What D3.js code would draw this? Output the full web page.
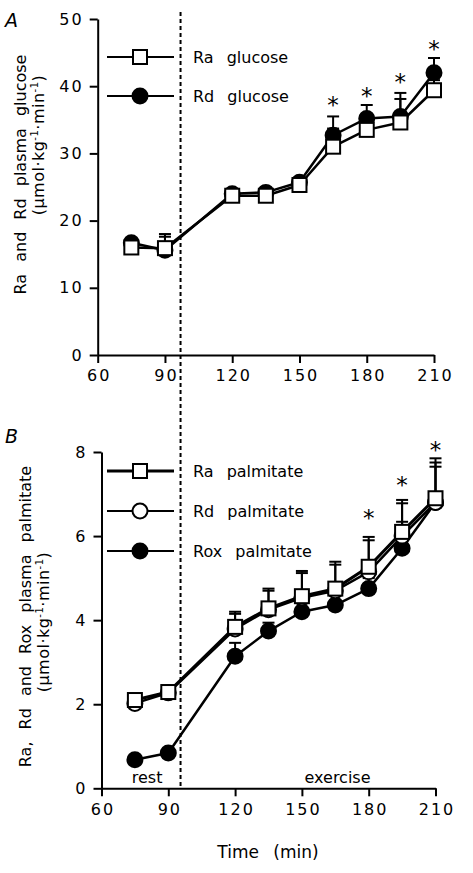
<!DOCTYPE html>
<html><head><meta charset="utf-8">
<script src="https://cdn.jsdelivr.net/npm/d3@7"></script>
<style>
body{margin:0;background:#fff}
svg{display:block}
text{font-family:"DejaVu Sans",sans-serif;fill:#000}
</style>
</head><body>
<svg id="c" width="473" height="873"></svg>
<script>
// ---------- data ----------
const timePoints = [75, 90, 120, 135, 150, 165, 180, 195, 210];
const xTicks = [60, 90, 120, 150, 180, 210];
const yTicksGlucose = [0, 10, 20, 30, 40, 50];
const yTicksPalm = [0, 2, 4, 6, 8];
const boundaryTime = 95.5;

const raGlucose   = [16.0, 15.9, 23.7, 23.7, 25.3, 31.0, 33.5, 34.6, 39.4];
const raGlucoseSE = [0.6, 2.1, 0.6, 0.6, 0.6, 2.7, 1.5, 3.5, 1.5];
const rdGlucose   = [16.7, 15.6, 24.0, 24.2, 25.7, 32.7, 35.2, 35.5, 42.0];
const rdGlucoseSE = [0.6, 2.0, 0.6, 0.6, 0.6, 2.8, 2.0, 3.5, 2.2];
const sigTimesGlucose = [165, 180, 195, 210];
const sigLevelGlucose = [37.9, 39.3, 41.4, 46.3];

const raPalm   = [2.10, 2.29, 3.84, 4.28, 4.57, 4.75, 5.27, 6.10, 6.90];
const raPalmSE = [0.08, 0.08, 0.36, 0.47, 0.60, 0.64, 0.71, 0.76, 0.95];
const rdPalm   = [2.02, 2.27, 3.79, 4.25, 4.53, 4.70, 5.15, 6.00, 6.80];
const rdPalmSE = [0.08, 0.08, 0.36, 0.45, 0.59, 0.62, 0.75, 0.78, 0.95];
const roxPalm   = [0.68, 0.84, 3.14, 3.74, 4.20, 4.36, 4.75, 5.71, 6.80];
const roxPalmSE = [0.05, 0.05, 0.32, 0.20, 0.25, 0.25, 0.25, 0.63, 0.85];
const sigTimesPalm = [180, 195, 210];
const sigLevelPalm = [6.54, 7.33, 8.17];

const legendGlucose = ["Ra glucose", "Rd glucose"];
const legendPalm = ["Ra palmitate", "Rd palmitate", "Rox palmitate"];
const phaseLabels = ["rest", "exercise"];
const phaseTimes = [80.5, 166];

// ---------- layout ----------
const svg = d3.select("#c");
const xTop = d3.scaleLinear().domain([60, 210]).range([97.7, 434]);
const yTop = d3.scaleLinear().domain([0, 50]).range([355, 19]);
const xBot = d3.scaleLinear().domain([60, 210]).range([101.5, 435.5]);
const yBot = d3.scaleLinear().domain([0, 8]).range([788.3, 452]);

function styleAxis(g){
  g.select(".domain").attr("stroke","#000").attr("stroke-width",2);
  g.selectAll(".tick line").attr("stroke","#000").attr("stroke-width",2);
  g.selectAll(".tick text").attr("font-size",16).attr("font-family","DejaVu Sans")
    .style("letter-spacing","2px").attr("fill","#000");
}

function drawAxes(x, y, yTicks){
  const gx = svg.append("g").attr("transform",`translate(0,${y(0)})`)
    .call(d3.axisBottom(x).tickValues(xTicks).tickSize(8).tickSizeOuter(0).tickPadding(7).tickFormat(d3.format("d")));
  styleAxis(gx);
  gx.selectAll(".tick text").attr("dx","1px");
  const gy = svg.append("g").attr("transform",`translate(${x(60)},0)`)
    .call(d3.axisLeft(y).tickValues(yTicks).tickSize(8).tickSizeOuter(0).tickPadding(6).tickFormat(d3.format("d")));
  styleAxis(gy);
}

function marker(g, type, cx, cy){
  if(type==="square"){
    g.append("rect").attr("x",cx-7).attr("y",cy-7).attr("width",14).attr("height",14)
      .attr("fill","#fff").attr("stroke","#000").attr("stroke-width",2);
  } else {
    g.append("circle").attr("cx",cx).attr("cy",cy).attr("r",7.5)
      .attr("fill", type==="filled" ? "#000" : "#fff").attr("stroke","#000").attr("stroke-width",2);
  }
}

function errorBars(x, y, vals, se){
  const g = svg.append("g").attr("stroke","#000").attr("stroke-width",2);
  timePoints.forEach((t,i)=>{
    const px = x(t), y0 = y(vals[i]), y1 = y(vals[i]+se[i]);
    g.append("line").attr("x1",px).attr("x2",px).attr("y1",y0).attr("y2",y1);
    g.append("line").attr("x1",px-6).attr("x2",px+6).attr("y1",y1).attr("y2",y1);
  });
}

function series(x, y, vals, type, lw){
  const line = d3.line().x((d,i)=>x(timePoints[i])).y(d=>y(d));
  svg.append("path").datum(vals).attr("d",line).attr("fill","none")
    .attr("stroke","#000").attr("stroke-width",lw).attr("stroke-linejoin","round");
}
function markers(x, y, vals, type){
  const g = svg.append("g");
  vals.forEach((v,i)=>marker(g, type, x(timePoints[i]), y(v)));
}

function legend(items, types, widths, y0, step){
  items.forEach((name,i)=>{
    const cy = y0 + i*step;
    svg.append("line").attr("x1",107).attr("x2",174).attr("y1",cy).attr("y2",cy)
      .attr("stroke","#000").attr("stroke-width",widths[i]);
    marker(svg, types[i], 140, cy);
    svg.append("text").attr("x",193).attr("y",cy+6).attr("font-size",16)
      .style("word-spacing","8px").text(name);
  });
}

function stars(x, y, times, levels){
  times.forEach((t,i)=>{
    svg.append("text").attr("x",x(t)).attr("y",y(levels[i])).attr("dy","0.57em")
      .attr("text-anchor","middle").attr("font-size",23).text("*");
  });
}

// dashed boundary line spanning both panels
svg.append("line").attr("x1",xBot(boundaryTime)).attr("x2",xBot(boundaryTime))
  .attr("y1",12).attr("y2",yBot(0)).attr("stroke","#000").attr("stroke-width",2)
  .attr("stroke-dasharray","4,3");

// ---------- panel A ----------
drawAxes(xTop, yTop, yTicksGlucose);
errorBars(xTop, yTop, rdGlucose, rdGlucoseSE);
errorBars(xTop, yTop, raGlucose, raGlucoseSE);
series(xTop, yTop, rdGlucose, "filled", 2.5);
series(xTop, yTop, raGlucose, "square", 2.5);
markers(xTop, yTop, rdGlucose, "filled");
markers(xTop, yTop, raGlucose, "square");
stars(xTop, yTop, sigTimesGlucose, sigLevelGlucose);
legend(legendGlucose, ["square","filled"], [2,2], 57, 39);

svg.append("text").attr("x",5).attr("y",27).attr("font-size",19)
  .attr("font-family","Liberation Sans").attr("font-style","italic").text("A");

function yTitle(x, cy, line1, line2x, line2cy){
  svg.append("text").attr("transform",`translate(${x},${cy}) rotate(-90)`)
    .attr("text-anchor","middle").attr("font-size",16).style("word-spacing","7px").text(line1);
  const t = svg.append("text").attr("transform",`translate(${line2x},${line2cy}) rotate(-90)`)
    .attr("text-anchor","middle").attr("font-size",16).style("letter-spacing","0.5px");
  t.append("tspan").text("(\u00b5mol\u00b7kg");
  t.append("tspan").attr("font-size",10).attr("dy",-6).text("-1");
  t.append("tspan").attr("dy",6).text("\u00b7min");
  t.append("tspan").attr("font-size",10).attr("dy",-6).text("-1");
  t.append("tspan").attr("dy",6).text(")");
}
yTitle(26, 174.5, "Ra and Rd plasma glucose", 44, 145);

// ---------- panel B ----------
drawAxes(xBot, yBot, yTicksPalm);
errorBars(xBot, yBot, roxPalm, roxPalmSE);
errorBars(xBot, yBot, rdPalm, rdPalmSE);
errorBars(xBot, yBot, raPalm, raPalmSE);
series(xBot, yBot, roxPalm, "filled", 2.5);
series(xBot, yBot, rdPalm, "open", 2.5);
series(xBot, yBot, raPalm, "square", 3);
markers(xBot, yBot, roxPalm, "filled");
markers(xBot, yBot, rdPalm, "open");
markers(xBot, yBot, raPalm, "square");
stars(xBot, yBot, sigTimesPalm, sigLevelPalm);
legend(legendPalm, ["square","open","filled"], [3,2,2], 471, 40);

svg.append("text").attr("x",5).attr("y",443).attr("font-size",19)
  .attr("font-family","Liberation Sans").attr("font-style","italic").text("B");

yTitle(31, 616.5, "Ra, Rd and Rox plasma palmitate", 49, 622);

phaseLabels.forEach((p,i)=>{
  svg.append("text").attr("x",xBot(phaseTimes[i])).attr("y",783).attr("text-anchor","middle")
    .attr("font-size",16).text(p);
});

svg.append("text").attr("x",268).attr("y",858).attr("text-anchor","middle")
  .attr("font-size",17).style("word-spacing","9px").text("Time (min)");
</script>
</body></html>
